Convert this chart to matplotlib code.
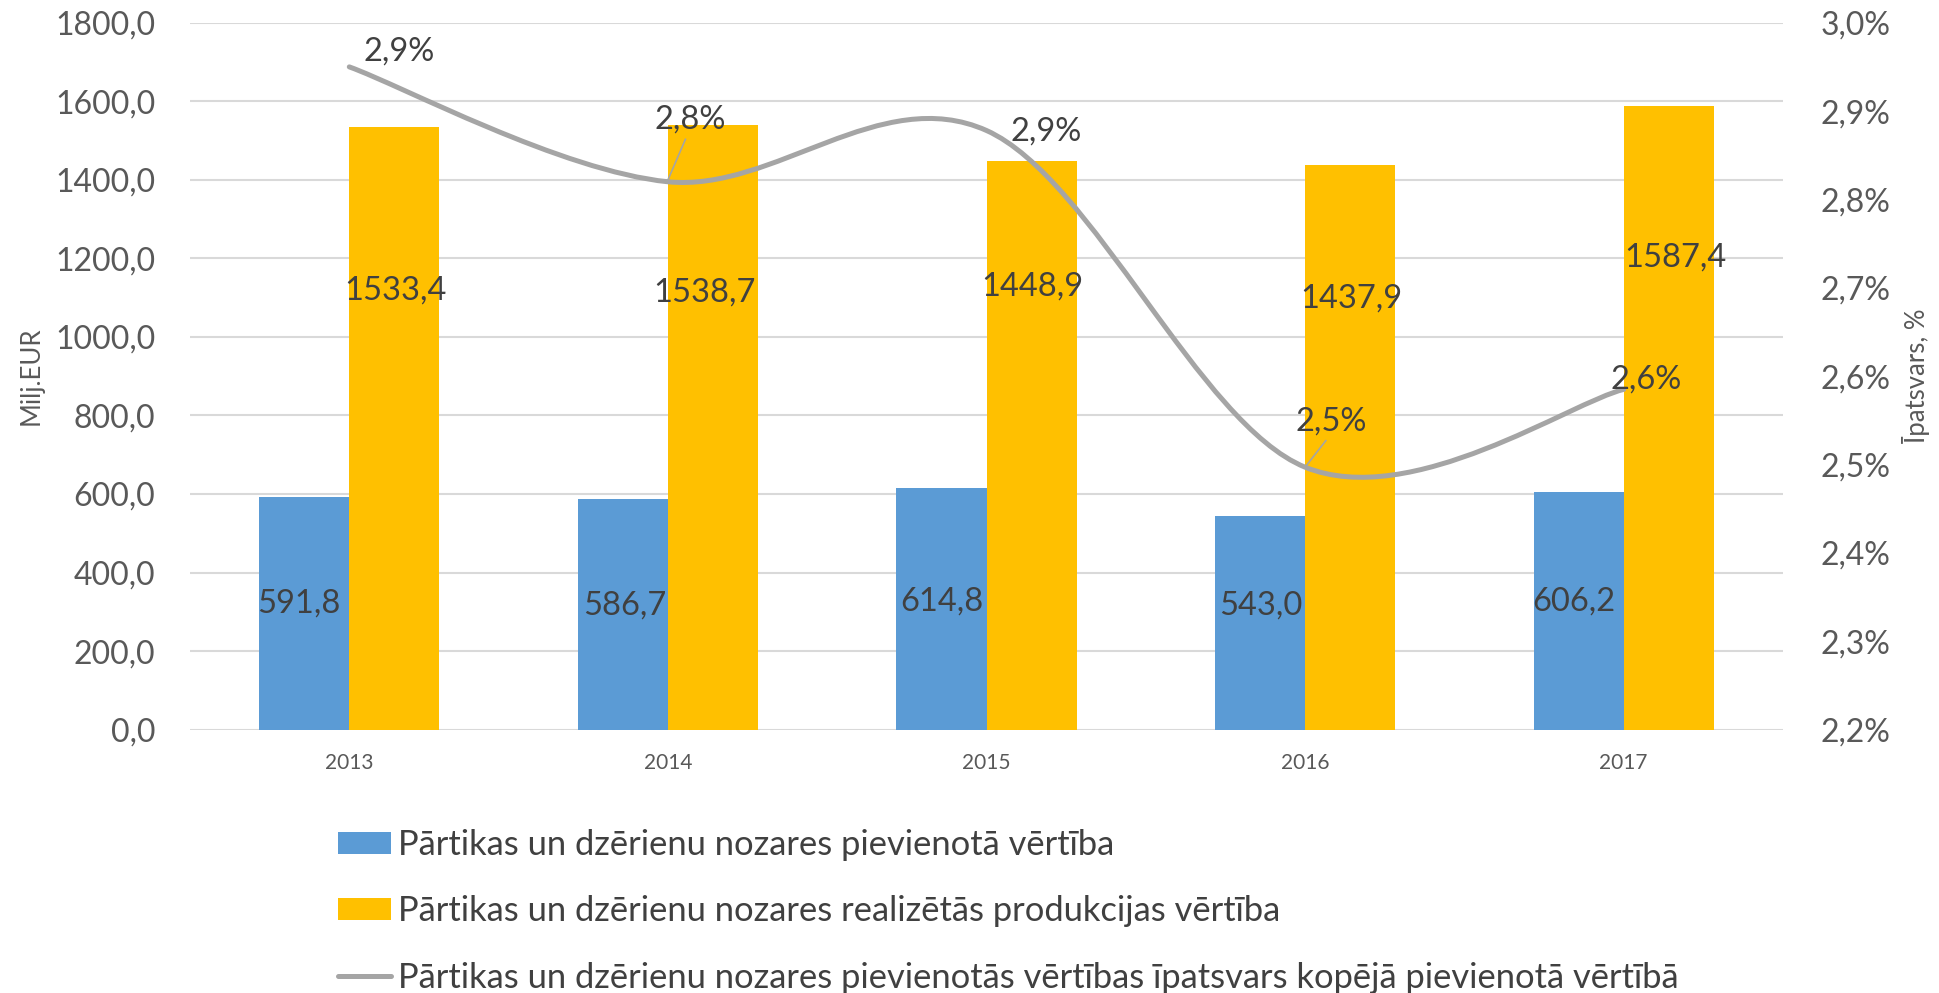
import numpy as np
import matplotlib.pyplot as plt
from matplotlib.path import Path
from matplotlib.patches import PathPatch, Patch
from matplotlib.lines import Line2D

plt.rcParams['font.family'] = ['Lato', 'DejaVu Sans']

# dati
years = ["2013", "2014", "2015", "2016", "2017"]
pievienota = [591.8, 586.7, 614.8, 543.0, 606.2]
realizeta = [1533.4, 1538.7, 1448.9, 1437.9, 1587.4]
ipatsvars = [2.95, 2.82, 2.878, 2.497, 2.585]
ipatsvars_txt = ["2,9%", "2,8%", "2,9%", "2,5%", "2,6%"]

names = ["Pārtikas un dzērienu nozares pievienotā vērtība",
         "Pārtikas un dzērienu nozares realizētās produkcijas vērtība",
         "Pārtikas un dzērienu nozares pievienotās vērtības īpatsvars kopējā pievienotā vērtībā"]

# etiķešu novietojums (pārvietotas ar roku kā oriģinālā)
blue_lbl_y = [321, 315, 325, 315, 325]
blue_lbl_dx = [-0.157, -0.137, -0.139, -0.138, -0.156]
yel_lbl_y = [1119, 1113, 1128, 1097, 1201]
yel_lbl_dx = [0.146, 0.116, 0.144, 0.145, 0.162]
line_lbl_xy = [(0.157, 2.967), (1.069, 2.8907), (2.186, 2.8767), (3.083, 2.549), (4.07, 2.5965)]

c_blue = "#5b9bd5"
c_yel = "#ffc000"
c_line = "#a5a5a5"
c_tick = "#595959"
c_lbl = "#404040"

fig = plt.figure(figsize=(19.39, 9.93), dpi=100)
ax = fig.add_axes([190 / 1939, 1 - 729.6 / 993, (1783 - 190) / 1939, (729.6 - 22.7) / 993])

x = np.arange(len(years))
w = 0.283
ax.bar(x - w / 2, pievienota, w, color=c_blue, zorder=2)
ax.bar(x + w / 2, realizeta, w, color=c_yel, zorder=2)

ax.set_xlim(-0.5, 4.5)
ax.set_ylim(0, 1800)
ax.set_yticks(np.arange(0, 1801, 200))
ax.set_yticklabels([f"{v:.1f}".replace(".", ",") for v in np.arange(0, 1801, 200)])
ax.set_xticks(x)
ax.set_xticklabels(years)
ax.grid(axis="y", color="#d9d9d9", lw=1.5, zorder=0)
for s in ax.spines.values():
    s.set_visible(False)
ax.tick_params(axis="y", length=0, pad=25, labelsize=23, labelcolor=c_tick)
ax.tick_params(axis="x", length=0, pad=17, labelsize=15, labelcolor=c_tick)
ax.set_ylabel("Milj.EUR", fontsize=18.5, color=c_tick, va="center")
ax.yaxis.set_label_coords(-0.1, 0.5)

for i in range(len(years)):
    ax.text(i + blue_lbl_dx[i], blue_lbl_y[i], f"{pievienota[i]:.1f}".replace(".", ","),
            ha="center", va="center", fontsize=23.5, color=c_lbl, zorder=3)
    ax.text(i + yel_lbl_dx[i], yel_lbl_y[i], f"{realizeta[i]:.1f}".replace(".", ","),
            ha="center", va="center", fontsize=23.5, color=c_lbl, zorder=3)

# otrā ass - līnija
ax2 = ax.twinx()
ax2.set_ylim(2.2, 3.0)
ax2.set_yticks(np.arange(2.2, 3.01, 0.1))
ax2.set_yticklabels([f"{v:.1f}%".replace(".", ",") for v in np.arange(2.2, 3.01, 0.1)])
for s in ax2.spines.values():
    s.set_visible(False)
ax2.tick_params(axis="y", length=0, pad=27, labelsize=23, labelcolor=c_tick)
ax2.set_ylabel("Īpatsvars, %", fontsize=18.5, color=c_tick, va="center")
ax2.yaxis.set_label_coords(1.0836, 0.5)

# izlīdzināta līnija (Catmull-Rom -> Bezier kā Excel)
pts = np.column_stack([x, ipatsvars])
verts = [pts[0]]
codes = [Path.MOVETO]
for i in range(len(pts) - 1):
    p0 = pts[max(i - 1, 0)]
    p1 = pts[i]
    p2 = pts[i + 1]
    p3 = pts[min(i + 2, len(pts) - 1)]
    verts += [p1 + (p2 - p0) / 6, p2 - (p3 - p1) / 6, p2]
    codes += [Path.CURVE4] * 3
ax2.add_patch(PathPatch(Path(verts, codes), fill=False, edgecolor=c_line, lw=3.6,
                        capstyle="round", zorder=4))

for i in range(len(years)):
    lx, ly = line_lbl_xy[i]
    ax2.text(lx, ly, ipatsvars_txt[i], ha="center", va="center", fontsize=23.5,
             color=c_lbl, zorder=5)
# līniju atsauces
ax2.plot([1.0, 1.055], [2.822, 2.868], color=c_line, lw=1.2, zorder=5)
ax2.plot([3.0, 3.065], [2.497, 2.527], color=c_line, lw=1.2, zorder=5)

handles = [Patch(facecolor=c_blue), Patch(facecolor=c_yel),
           Line2D([], [], color=c_line, lw=3.6, solid_capstyle="round")]
fig.legend(handles, names, loc="upper left", bbox_to_anchor=(338 / 1939, 1 - 829 / 993),
           frameon=False, fontsize=24.8, labelcolor=c_lbl, handlelength=1.53,
           handleheight=0.62, handletextpad=0.2, labelspacing=1.0,
           borderpad=0, borderaxespad=0)

fig.savefig("out.png", dpi=100)
